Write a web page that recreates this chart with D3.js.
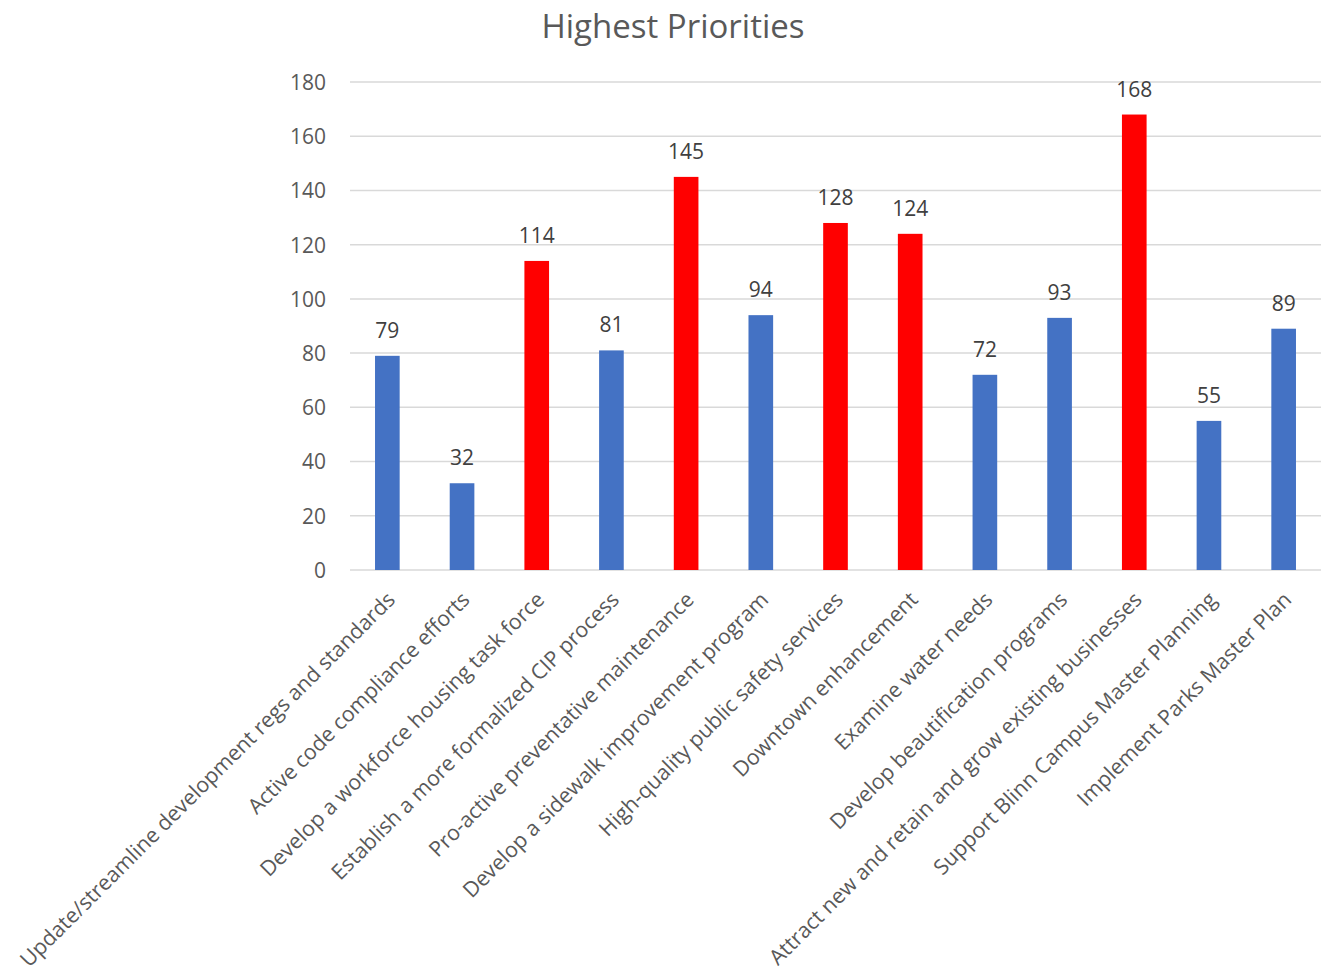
<!DOCTYPE html>
<html><head><meta charset="utf-8">
<script src="https://cdn.jsdelivr.net/npm/d3@7"></script>
<style>body{margin:0;background:#fff}</style>
</head><body>
<svg id="c" width="1327" height="978"></svg>
<script>
const categories = [
 "Update/streamline development regs and standards",
 "Active code compliance efforts",
 "Develop a workforce housing task force",
 "Establish a more formalized CIP process",
 "Pro-active preventative maintenance",
 "Develop a sidewalk improvement program",
 "High-quality public safety services",
 "Downtown enhancement",
 "Examine water needs",
 "Develop beautification programs",
 "Attract new and retain and grow existing businesses",
 "Support Blinn Campus Master Planning",
 "Implement Parks Master Plan"
];
const values = [79, 32, 114, 81, 145, 94, 128, 124, 72, 93, 168, 55, 89];
const highlighted = [false, false, true, false, true, false, true, true, false, false, true, false, false];
const yTicks = [0, 20, 40, 60, 80, 100, 120, 140, 160, 180];
const title = "Highest Priorities";

const svg = d3.select("#c");
const font = "'Open Sans', sans-serif";
const x = d3.scaleBand().domain(categories).range([350, 1321]).paddingInner(0.67).paddingOuter(0.335);
const y = d3.scaleLinear().domain([0, 180]).range([570, 82]);

svg.append("text").attr("x", 673).attr("y", 38).attr("text-anchor", "middle")
  .attr("font-family", font).attr("font-size", 33).attr("fill", "#595959").text(title);

const g = svg.append("g");
g.selectAll("line.grid").data(yTicks).join("line").attr("class","grid")
  .attr("x1", 350).attr("x2", 1321).attr("y1", d => y(d)).attr("y2", d => y(d))
  .attr("stroke", "#d9d9d9").attr("stroke-width", 1.5);

const yAxis = d3.axisLeft(y).tickValues(yTicks).tickSize(0).tickPadding(0);
const ya = svg.append("g").attr("transform", "translate(326,0)").call(yAxis);
ya.select(".domain").remove();
ya.selectAll("text").attr("font-family", font).attr("font-size", 21).attr("fill", "#595959").attr("dy", "0.35em");

svg.selectAll("rect.bar").data(values).join("rect").attr("class","bar")
  .attr("x", (d,i) => x(categories[i])).attr("width", x.bandwidth())
  .attr("y", d => y(d)).attr("height", d => y(0) - y(d))
  .attr("fill", (d,i) => highlighted[i] ? "#ff0000" : "#4472c4");

svg.selectAll("text.val").data(values).join("text").attr("class","val")
  .attr("x", (d,i) => x(categories[i]) + x.bandwidth()/2).attr("y", d => y(d) - 18)
  .attr("text-anchor", "middle").attr("font-family", font).attr("font-size", 21).attr("fill", "#404040")
  .text(d => d);

const xAxis = d3.axisBottom(x).tickSize(0).tickPadding(0);
const xa = svg.append("g").attr("transform", "translate(0,570)").call(xAxis);
xa.select(".domain").remove();
xa.selectAll("text").attr("font-family", font).attr("font-size", 21.3).attr("fill", "#595959")
  .attr("text-anchor", "end").attr("dy", 0).attr("y", 0)
  .attr("transform", "translate(9,31) rotate(-45)");
</script>
</body></html>
